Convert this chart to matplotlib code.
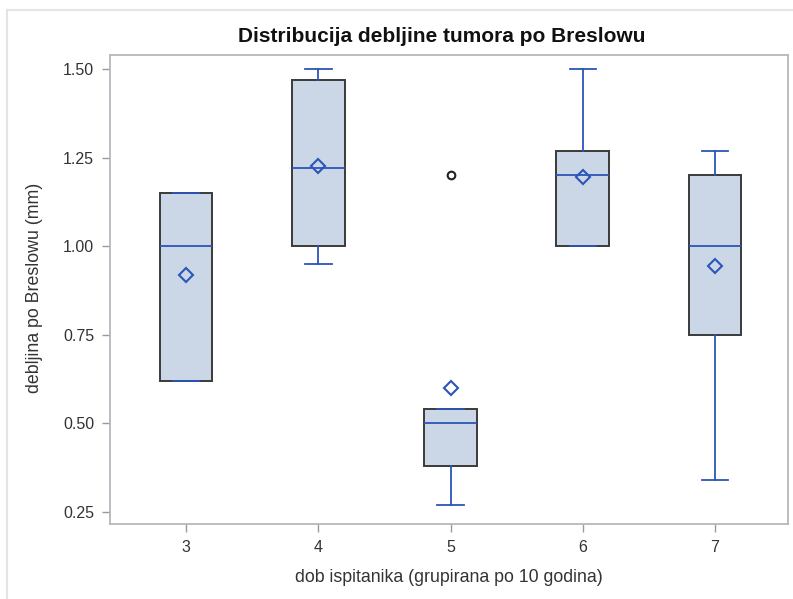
import matplotlib.pyplot as plt
from matplotlib.lines import Line2D

plt.rcParams['font.family'] = ['Liberation Sans', 'DejaVu Sans']

groups = [3, 4, 5, 6, 7]
whisk_lo = [0.62, 0.95, 0.27, 1.00, 0.34]
q1 = [0.62, 1.00, 0.38, 1.00, 0.75]
medians = [1.00, 1.22, 0.50, 1.20, 1.00]
q3 = [1.15, 1.47, 0.54, 1.27, 1.20]
whisk_hi = [1.15, 1.50, 0.54, 1.50, 1.27]
means = [0.92, 1.225, 0.60, 1.195, 0.945]
outliers = [[], [], [1.20], [], []]

blue = '#2B55B8'
fill = '#CBD6E6'
edge = '#3A3A3A'

stats = []
for i in range(len(groups)):
    stats.append(dict(whislo=whisk_lo[i], q1=q1[i], med=medians[i], q3=q3[i],
                      whishi=whisk_hi[i], mean=means[i], fliers=outliers[i]))

fig = plt.figure(figsize=(7.93, 5.99), dpi=100)
ax = fig.add_axes([110 / 793, 1 - 524 / 599, 678 / 793, 469 / 599])

ax.bxp(stats, positions=groups, widths=0.4, patch_artist=True, showmeans=True,
       boxprops=dict(facecolor=fill, edgecolor=edge, linewidth=1.4),
       medianprops=dict(color=blue, linewidth=1.3, zorder=4),
       whiskerprops=dict(color=blue, linewidth=1.3),
       capprops=dict(color=blue, linewidth=1.3, zorder=4),
       capwidths=0.2,
       meanprops=dict(marker='D', markerfacecolor='none', markeredgecolor=blue,
                      markersize=7, markeredgewidth=1.5, zorder=5),
       flierprops=dict(marker='o', markerfacecolor='none', markeredgecolor='#222222',
                       markersize=5.5, markeredgewidth=1.5))

ax.set_xlim(2.425, 7.552)
ax.set_ylim(0.216, 1.5395)
ax.set_xticks(groups)
ax.set_xticklabels([str(g) for g in groups])
ax.set_yticks([0.25, 0.50, 0.75, 1.00, 1.25, 1.50])
ax.set_yticklabels(['0.25', '0.50', '0.75', '1.00', '1.25', '1.50'])

for s in ax.spines.values():
    s.set_color('#B4B8BC')
    s.set_linewidth(1.3)
ax.tick_params(colors='#9A9A9A', labelcolor='#333333', labelsize=11.5, length=6, width=1, pad=5.5)

fig.text(442 / 793, 1 - 36 / 599, 'Distribucija debljine tumora po Breslowu', fontsize=15,
         fontweight='bold', color='#111111', ha='center', va='center')
fig.text(449 / 793, 1 - 578 / 599, 'dob ispitanika (grupirana po 10 godina)', fontsize=12.8,
         color='#333333', ha='center', va='center')
fig.text(35 / 793, 1 - 288 / 599, 'debljina po Breslowu (mm)', fontsize=12.8,
         color='#333333', ha='center', va='center', rotation=90)

# light outer frame (left and top edges)
fig.add_artist(Line2D([7 / 793, 7 / 793], [0, 1 - 10 / 599], color='#E4E4E4', linewidth=1.5))
fig.add_artist(Line2D([7 / 793, 1], [1 - 10 / 599, 1 - 10 / 599], color='#E4E4E4', linewidth=1.5))

fig.savefig('out.png', dpi=100)
